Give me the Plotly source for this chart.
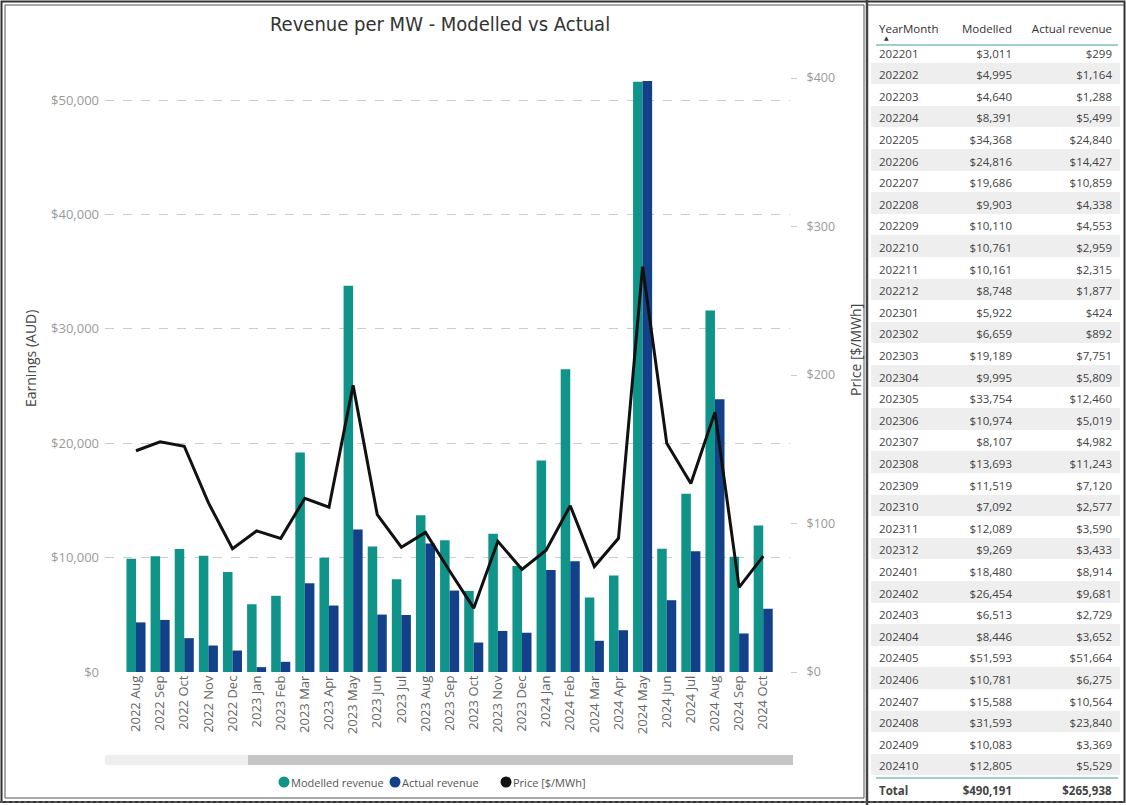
import plotly.graph_objects as go

# ---------------- data ----------------
year_month = [
    "202201", "202202", "202203", "202204", "202205", "202206", "202207",
    "202208", "202209", "202210", "202211", "202212",
    "202301", "202302", "202303", "202304", "202305", "202306",
    "202307", "202308", "202309", "202310", "202311", "202312",
    "202401", "202402", "202403", "202404", "202405", "202406",
    "202407", "202408", "202409", "202410",
]
modelled_revenue = [
    3011, 4995, 4640, 8391, 34368, 24816, 19686,
    9903, 10110, 10761, 10161, 8748,
    5922, 6659, 19189, 9995, 33754, 10974,
    8107, 13693, 11519, 7092, 12089, 9269,
    18480, 26454, 6513, 8446, 51593, 10781,
    15588, 31593, 10083, 12805,
]
actual_revenue = [
    299, 1164, 1288, 5499, 24840, 14427, 10859,
    4338, 4553, 2959, 2315, 1877,
    424, 892, 7751, 5809, 12460, 5019,
    4982, 11243, 7120, 2577, 3590, 3433,
    8914, 9681, 2729, 3652, 51664, 6275,
    10564, 23840, 3369, 5529,
]
total_modelled = 490191
total_actual = 265938

# months shown on the chart (2022 Aug onwards)
chart_months = [
    "2022 Aug", "2022 Sep", "2022 Oct", "2022 Nov", "2022 Dec",
    "2023 Jan", "2023 Feb", "2023 Mar", "2023 Apr", "2023 May", "2023 Jun",
    "2023 Jul", "2023 Aug", "2023 Sep", "2023 Oct", "2023 Nov", "2023 Dec",
    "2024 Jan", "2024 Feb", "2024 Mar", "2024 Apr", "2024 May", "2024 Jun",
    "2024 Jul", "2024 Aug", "2024 Sep", "2024 Oct",
]
price = [
    149, 155, 152, 114, 83,
    95, 90, 117, 111, 193, 106,
    84, 94, 68, 43, 88, 69,
    82, 112, 71, 90, 273, 154,
    127, 175, 57, 78,
]
earnings_ticks = [0, 10000, 20000, 30000, 40000, 50000]
price_ticks = [0, 100, 200, 300, 400]

first_chart_idx = year_month.index("202208")
chart_modelled = modelled_revenue[first_chart_idx:]
chart_actual = actual_revenue[first_chart_idx:]

# ---------------- styling ----------------
W, H = 1126, 805
TEAL = "#10948a"
NAVY = "#12418a"
FONT = "Open Sans, Noto Sans, DejaVu Sans, sans-serif"
TITLE_FONT = "Liberation Sans Narrow, DejaVu Sans Condensed, Roboto, sans-serif"


def px(x):
    return x / W


def py(y):
    return 1 - y / H


fig = go.Figure()

fig.add_trace(go.Bar(
    x=chart_months, y=chart_modelled, name="Modelled revenue",
    marker=dict(color=TEAL, line=dict(width=0)),
))
fig.add_trace(go.Bar(
    x=chart_months, y=chart_actual, name="Actual revenue",
    marker=dict(color=NAVY, line=dict(width=0)),
))
fig.add_trace(go.Scatter(
    x=chart_months, y=price, name="Price [$/MWh]", yaxis="y2",
    mode="lines", line=dict(color="#111111", width=3),
))

# ---------------- table ----------------
n_rows = len(year_month)
col_ym = year_month + ["<b>Total</b>"]
col_mod = [f"${v:,}" for v in modelled_revenue] + [f"<b>${total_modelled:,}</b>"]
col_act = [f"${v:,}" for v in actual_revenue] + [f"<b>${total_actual:,}</b>"]
row_fill = ["#ffffff" if i % 2 == 0 else "#eeeeee" for i in range(n_rows)] + ["#ffffff"]

fig.add_trace(go.Table(
    domain=dict(x=[px(871), px(1120)], y=[0, py(16)]),
    columnwidth=[74, 75, 100],
    header=dict(
        values=["YearMonth", "Modelled", "Actual revenue"],
        align=["left", "right", "right"],
        fill_color="#ffffff",
        line=dict(color="#ffffff", width=0),
        font=dict(family=FONT, size=11.5, color="#333333"),
        height=25,
    ),
    cells=dict(
        values=[col_ym, col_mod, col_act],
        align=["left", "right", "right"],
        fill_color=[row_fill, row_fill, row_fill],
        line=dict(color="#ffffff", width=0),
        font=dict(family=FONT, size=11.5, color="#444444"),
        height=21.6,
    ),
))

# ---------------- decorations ----------------
shapes = []
# frames around the two panels
shapes.append(dict(type="rect", xref="paper", yref="paper",
                   x0=px(1.5), x1=px(1124.5), y0=py(802), y1=py(1.5),
                   line=dict(color="#333333", width=2)))
shapes.append(dict(type="rect", xref="paper", yref="paper",
                   x0=px(5), x1=px(864), y0=py(798), y1=py(5),
                   line=dict(color="#555555", width=1)))
shapes.append(dict(type="line", xref="paper", yref="paper",
                   x0=px(867), x1=px(867), y0=0, y1=1,
                   line=dict(color="#444444", width=2.5)))
shapes.append(dict(type="line", xref="paper", yref="paper",
                   x0=px(867), x1=px(1124), y0=py(5), y1=py(5),
                   line=dict(color="#555555", width=1)))
shapes.append(dict(type="line", xref="paper", yref="paper",
                   x0=0, x1=1, y0=py(802), y1=py(802),
                   line=dict(color="#555555", width=2, dash="dot")))
# table header underline and total separator
shapes.append(dict(type="line", xref="paper", yref="paper",
                   x0=px(876), x1=px(1118), y0=py(45), y1=py(45),
                   line=dict(color="#7fbfb8", width=1.5)))
shapes.append(dict(type="line", xref="paper", yref="paper",
                   x0=px(876), x1=px(1118), y0=py(778), y1=py(778),
                   line=dict(color="#7fbfb8", width=1.5)))
# horizontal scrollbar under the category axis
shapes.append(dict(type="rect", xref="paper", yref="paper",
                   x0=px(105), x1=px(793), y0=py(765), y1=py(755),
                   fillcolor="#eeeeee", line=dict(width=0)))
shapes.append(dict(type="rect", xref="paper", yref="paper",
                   x0=px(248), x1=px(793), y0=py(765), y1=py(755),
                   fillcolor="#c6c6c6", line=dict(width=0)))
# legend markers
legend_items = [("Modelled revenue", TEAL, 284), ("Actual revenue", NAVY, 395),
                ("Price [$/MWh]", "#111111", 506)]
for _, col, cx in legend_items:
    shapes.append(dict(type="circle", xref="paper", yref="paper",
                       x0=px(cx - 5.5), x1=px(cx + 5.5), y0=py(787.5), y1=py(776.5),
                       fillcolor=col, line=dict(width=0)))

annotations = [
    dict(text="Revenue per MW - Modelled vs Actual", x=px(440), y=py(24),
         xref="paper", yref="paper", showarrow=False, xanchor="center", yanchor="middle",
         font=dict(family=TITLE_FONT, size=20, color="#333333")),
    dict(text="Earnings (AUD)", x=px(30), y=py(358), xref="paper", yref="paper",
         showarrow=False, textangle=-90, xanchor="center", yanchor="middle",
         font=dict(family=FONT, size=14, color="#444444")),
    dict(text="Price [$/MWh]", x=px(856), y=py(350), xref="paper", yref="paper",
         showarrow=False, textangle=-90, xanchor="center", yanchor="middle",
         font=dict(family=FONT, size=14, color="#444444")),
    dict(text="▲", x=px(886), y=py(38), xref="paper", yref="paper",
         showarrow=False, xanchor="center", yanchor="middle",
         font=dict(size=6, color="#333333")),
]
for label, _, cx in legend_items:
    annotations.append(dict(text=label, x=px(cx + 5), y=py(782), xref="paper", yref="paper",
                            xanchor="left", yanchor="middle", showarrow=False,
                            font=dict(family=FONT, size=11, color="#555555")))

fig.update_layout(
    width=W, height=H,
    margin=dict(l=0, r=0, t=0, b=0, autoexpand=False),
    paper_bgcolor="#ffffff", plot_bgcolor="#ffffff",
    barmode="group", bargap=0.21, bargroupgap=0,
    showlegend=False,
    font=dict(family=FONT, color="#666666"),
    xaxis=dict(
        domain=[px(105), px(790)],
        range=[-1.285, 27.11],
        type="category",
        tickangle=-90,
        tickfont=dict(family=FONT, size=13, color="#666666"),
        showgrid=False, showline=False, ticks="", automargin=False,
    ),
    yaxis=dict(
        domain=[py(672), py(78)],
        range=[0, 51923],
        tickvals=earnings_ticks,
        ticktext=[f"${v:,}" for v in earnings_ticks],
        tickfont=dict(family=FONT, size=13, color="#9a9a9a"),
        ticklabelstandoff=5,
        showgrid=True, gridcolor="#cccccc", griddash="dash", gridwidth=1,
        zeroline=False, showline=False, ticks="", automargin=False,
    ),
    yaxis2=dict(
        overlaying="y", side="right", anchor="x",
        range=[0, 400],
        tickvals=price_ticks,
        ticktext=[f"${v:,}" for v in price_ticks],
        tickfont=dict(family=FONT, size=12.5, color="#9a9a9a"),
        ticklabelstandoff=7,
        showgrid=False, zeroline=False, showline=False,
        ticks="outside", ticklen=6, tickcolor="#cccccc", automargin=False,
    ),
    shapes=shapes,
    annotations=annotations,
)

fig.write_html("out.html")
